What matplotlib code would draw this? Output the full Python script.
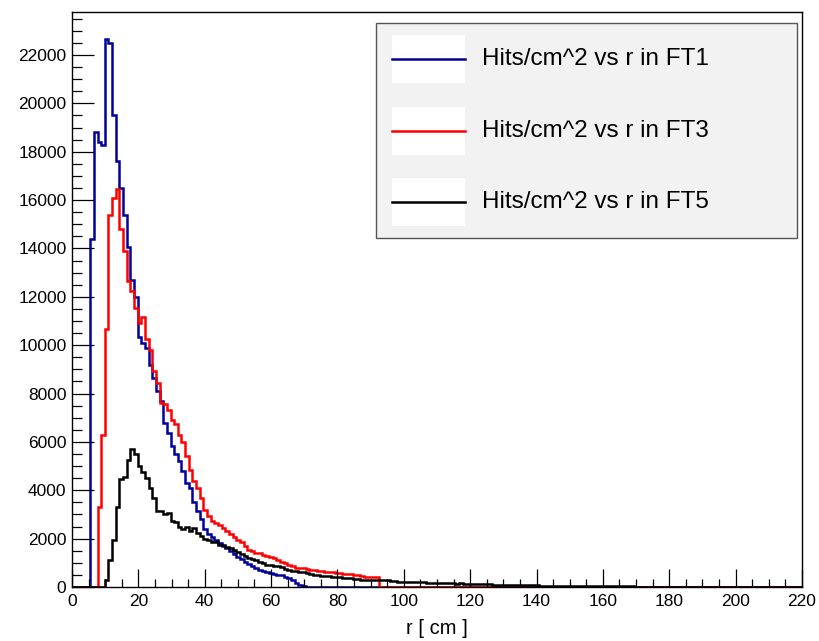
import numpy as np
import matplotlib
matplotlib.use("Agg")
import matplotlib.pyplot as plt
from matplotlib.patches import Rectangle
from matplotlib.ticker import MultipleLocator

plt.rcParams['font.family'] = ['Liberation Sans', 'DejaVu Sans']

# ---------------------
# Histogram setup: 200 bins, 0-220 cm
# ---------------------
r_min, r_max, n_bins = 0, 220, 200
labels = ["Hits/cm^2 vs r in FT1", "Hits/cm^2 vs r in FT3", "Hits/cm^2 vs r in FT5"]
colors = ["#00009a", "#ff0000", "#000000"]

ft1 = [0, 0, 0, 0, 0, 14400, 18800, 18400, 18300, 22650,
       22500, 19500, 17600, 16500, 15400, 14050, 12700, 12000, 10350, 10100,
       9900, 9200, 8650, 8100, 7700, 6800, 6350, 5850, 5500, 5200,
       4800, 4300, 4100, 3500, 3150, 2800, 2400, 2200, 2050, 1950,
       1800, 1700, 1600, 1500, 1350, 1250, 1150, 1050, 950, 880,
       800, 720, 650, 600, 560, 530, 500, 480, 420, 370,
       300, 180, 90, 40, 15, 5] + [0] * 134

ft3 = [0, 0, 0, 0, 0, 0, 0, 3300, 6300, 10650,
       15400, 16100, 16450, 14800, 13900, 12650, 12250, 11550, 10900, 11150,
       10250, 9800, 8950, 8450, 7600, 7550, 7300, 6900, 6750, 6300,
       6000, 5400, 4850, 4400, 4100, 3700, 3200, 2950, 2750, 2650,
       2550, 2450, 2300, 2200, 2050, 1950, 1850, 1700, 1550, 1480,
       1420, 1390, 1330, 1280, 1250, 1200, 1130, 1050, 980, 920,
       860, 800, 790, 770, 740, 720, 700, 680, 660, 640,
       620, 600, 580, 570, 550, 540, 520, 500, 480, 450,
       430, 420, 410, 400] + [0] * 116

ft5 = [0, 0, 0, 0, 0, 0, 0, 0, 0, 290,
       1110, 1940, 3300, 4480, 4550, 5250, 5700, 5500, 5000, 4750,
       4500, 4100, 3700, 3150, 3150, 3000, 3050, 2750, 2700, 2500,
       2400, 2480, 2300, 2420, 2220, 2100, 2000, 1950, 1880, 1850,
       1750, 1720, 1650, 1600, 1550, 1450, 1380, 1300, 1200, 1150,
       1100, 1050, 980, 930, 900, 870, 850, 820, 760, 720,
       680, 650, 630, 610, 580, 540, 510, 490, 470, 450,
       440, 425, 410, 400, 385, 370, 355, 340, 320, 305,
       290, 290, 285, 280, 290, 280, 270, 255, 240, 225,
       220, 215, 210, 220, 205, 200, 190, 185, 175, 170,
       160, 155, 150, 150, 145, 140, 150, 135, 130, 125,
       120, 115, 110, 108, 105, 100, 95, 92, 90, 85,
       82, 80, 78, 75, 72, 70, 68, 65, 62, 60,
       58, 55, 52, 50, 48, 46, 44, 42, 40, 38,
       36, 35, 34, 32, 30, 29, 28, 27, 26, 25,
       24, 23, 22, 21, 20, 19, 18, 17, 16, 15,
       14, 14, 13, 13, 12, 12, 11, 11, 10, 10,
       10, 9, 9, 9, 8, 8, 8, 8, 7, 7,
       7, 7, 6, 6, 6, 6, 6, 5, 5, 5,
       5, 5, 5, 4, 4, 4, 4, 4, 4, 4]

edges = np.linspace(r_min, r_max, n_bins + 1)

# ---------------------
# Plot
# ---------------------
fig = plt.figure(figsize=(8.2, 6.41), dpi=100)
ax = fig.add_axes([72 / 820, 54 / 641, 730 / 820, 575 / 641])

for vals, c in zip([ft1, ft3, ft5], colors):
    ax.stairs(vals, edges, color=c, lw=1.8, baseline=0)

ax.set_xlim(r_min, r_max)
ax.set_ylim(0, 23780)

ax.xaxis.set_major_locator(MultipleLocator(20))
ax.xaxis.set_minor_locator(MultipleLocator(5))
ax.yaxis.set_major_locator(MultipleLocator(2000))
ax.yaxis.set_minor_locator(MultipleLocator(500))

ax.tick_params(axis="x", which="major", direction="in", length=13, width=0.9, labelsize=12.5, pad=5)
ax.tick_params(axis="x", which="minor", direction="in", length=6, width=0.9)
ax.tick_params(axis="y", which="major", direction="in", length=16, width=0.9, labelsize=12.5, pad=4)
ax.tick_params(axis="y", which="minor", direction="in", length=7.5, width=0.9)
for s in ax.spines.values():
    s.set_linewidth(1.0)

ax.set_xlabel("r [ cm ]", fontsize=14.5, labelpad=7)

# ---------------------
# Legend (ROOT style box)
# ---------------------
ax.add_patch(Rectangle((0.4164, 0.607), 0.5768, 0.374, transform=ax.transAxes,
                       facecolor="#f2f2f2", edgecolor="#555555", lw=1.0, zorder=5))
ys = [0.9177, 0.7936, 0.6696]
for y, lab, c in zip(ys, labels, colors):
    ax.add_patch(Rectangle((0.438, y - 0.042), 0.1004, 0.084, transform=ax.transAxes,
                           facecolor="white", edgecolor="none", zorder=6))
    ax.plot([0.438, 0.5384], [y, y], transform=ax.transAxes, color=c, lw=1.8, zorder=7)
    ax.text(0.5616, y, lab, transform=ax.transAxes, fontsize=17.5, va="center", ha="left", zorder=7)

fig.savefig("out.png", dpi=100)
